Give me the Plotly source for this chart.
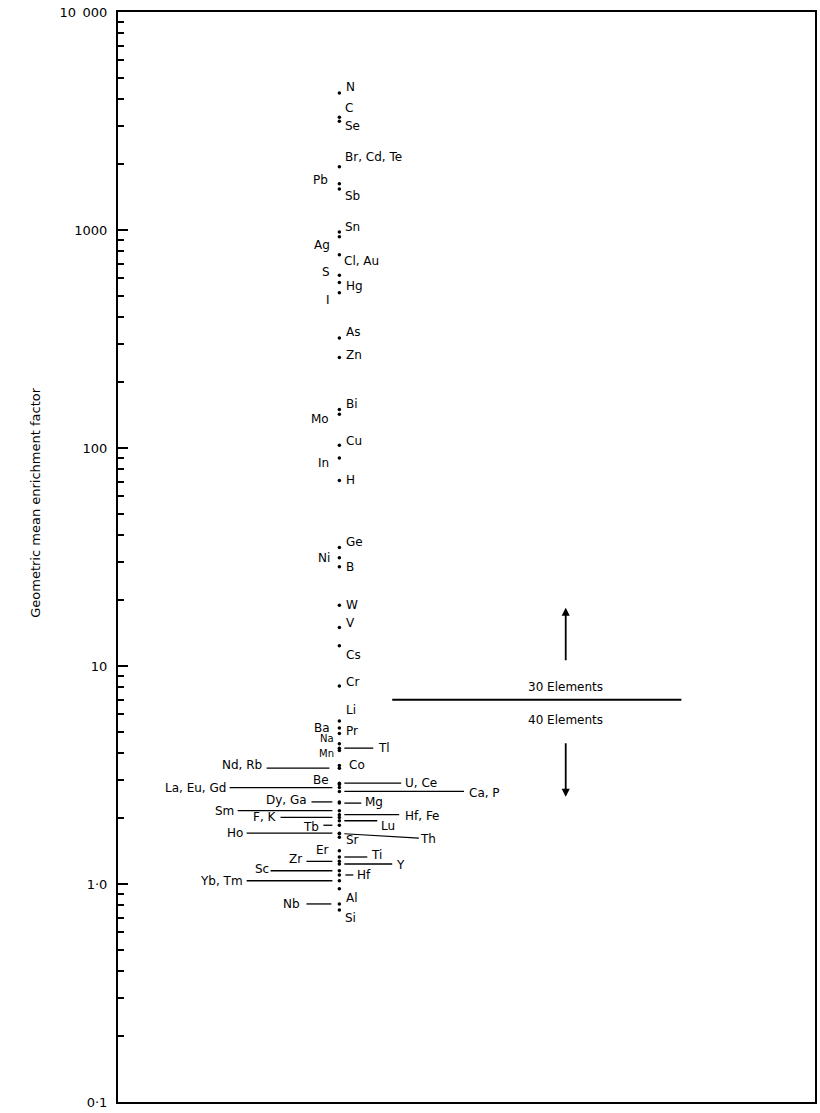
import math
import plotly.graph_objects as go

# ---------------- data ----------------
groups = ["N", "C", "Se", "Br, Cd, Te", "Pb", "Sb", "Sn", "Ag", "Cl, Au", "S", "Hg", "I",
          "As", "Zn", "Bi", "Mo", "Cu", "In", "H", "Ge", "Ni", "B", "W", "V", "Cs", "Cr",
          "Li", "Ba", "Pr", "Na", "Tl", "Mn", "Co", "Nd, Rb", "U, Ce", "Be", "La, Eu, Gd",
          "Ca, P", "Dy, Ga", "Mg", "Sm", "Hf, Fe", "F, K", "Lu", "Tb", "Ho", "Th", "Sr",
          "Er", "Ti", "Zr", "Y", "Sc", "Hf", "Yb, Tm", "Al", "Nb", "Si"]
ef_values = [4250, 3290, 3150, 1950, 1630, 1540, 980, 930, 770, 620, 575, 515,
             320, 260, 150, 143, 103, 90, 71, 35, 31.4, 28.5, 19.0, 15.0, 12.4, 8.1,
             5.6, 5.2, 4.9, 4.4, 4.2, 4.1, 3.5, 3.4, 2.9, 2.86, 2.77,
             2.66, 2.38, 2.35, 2.17, 2.08, 2.02, 1.95, 1.86, 1.71, 1.70, 1.64,
             1.42, 1.33, 1.27, 1.235, 1.15, 1.10, 1.035, 0.95, 0.81, 0.76]
divider_value = 7.0
divider_labels = ["30 Elements", "40 Elements"]
tick_values = [0.1, 1, 10, 100, 1000, 10000]
tick_labels = ["0·1", "1·0", "10", "100", "1000", "10\u2002000"]
y_title = "Geometric mean enrichment factor"

val = dict(zip(groups, ef_values))
lg = {g: math.log10(v) for g, v in val.items()}   # annotations on a log axis use log units
div_lg = math.log10(divider_value)

# ---------------- styling / placement ----------------
W, H = 820, 1113
L_M, R_M, T_M, B_M = 118, 3, 12, 11
COL_X = 340
FONT = "DejaVu Sans"
LBL_SIZE = 12

# label placement: group -> (x pixel, anchor, yshift[, size])
label_pos = {
    "N": (345, "left", 6), "C": (344, "left", 9), "Se": (344, "left", -5),
    "Br, Cd, Te": (344, "left", 10), "Pb": (331, "right", 4), "Sb": (344, "left", -7),
    "Sn": (344, "left", 5), "Ag": (333, "right", -8), "Cl, Au": (343, "left", -6),
    "S": (333, "right", 3), "Hg": (345, "left", -4), "I": (333, "right", -7),
    "As": (345, "left", 6), "Zn": (345, "left", 3), "Bi": (345, "left", 6),
    "Mo": (332, "right", -5), "Cu": (345, "left", 4), "In": (332, "right", -5),
    "H": (345, "left", 0), "Ge": (345, "left", 5), "Ni": (333, "right", 0),
    "B": (345, "left", 0), "W": (345, "left", 0), "V": (345, "left", 5),
    "Cs": (345, "left", -9), "Cr": (345, "left", 4), "Li": (345, "left", 11),
    "Ba": (333, "right", 0), "Pr": (345, "left", 3), "Na": (337, "right", 5, 10),
    "Mn": (337, "right", -3, 10), "Tl": (377, "left", 0), "Co": (348, "left", 0),
    "Nd, Rb": (264, "right", 3), "Be": (322, "center", 5), "La, Eu, Gd": (228, "right", 0),
    "U, Ce": (404, "left", 0), "Ca, P": (468, "left", -2), "Dy, Ga": (310, "right", 2),
    "Mg": (364, "left", 1), "Sm": (236, "right", 0), "Hf, Fe": (404, "left", -1),
    "F, K": (279, "right", 0), "Lu": (380, "left", -5), "Tb": (322, "right", -2),
    "Ho": (245, "right", 0), "Sr": (345, "left", -3), "Er": (332, "right", 1),
    "Ti": (370, "left", 2), "Zr": (305, "right", 2), "Y": (395, "left", -1),
    "Sc": (271, "right", 2), "Hf": (356, "left", 0), "Yb, Tm": (245, "right", 0),
    "Al": (345, "left", -9), "Nb": (303, "right", 0), "Si": (344, "left", -8),
}
# leader lines: group -> (x0, x1) pixels, drawn at the group's value
leaders = {
    "Tl": (345, 374), "Nd, Rb": (267, 330), "La, Eu, Gd": (230, 333),
    "U, Ce": (345, 402), "Ca, P": (345, 465), "Dy, Ga": (312, 333), "Mg": (345, 362),
    "Sm": (238, 333), "Hf, Fe": (345, 400), "F, K": (281, 333), "Lu": (345, 378),
    "Tb": (324, 333), "Ho": (247, 333), "Ti": (345, 368), "Zr": (307, 333),
    "Y": (345, 393), "Sc": (271, 333), "Hf": (346, 354), "Yb, Tm": (247, 333),
    "Nb": (307, 332),
}

fig = go.Figure()
fig.add_trace(go.Scatter(
    x=[COL_X] * len(ef_values), y=ef_values, mode="markers",
    marker=dict(color="black", size=3.5), hoverinfo="text", text=groups,
    showlegend=False, cliponaxis=False))

shapes = []
for g, (x0, x1) in leaders.items():
    shapes.append(dict(type="line", xref="x", yref="y", x0=x0, x1=x1,
                       y0=val[g], y1=val[g], line=dict(color="black", width=1.3)))
shapes.append(dict(type="line", xref="x", yref="y", x0=393, x1=683,
                   y0=divider_value, y1=divider_value, line=dict(color="black", width=2)))

annotations = []
for g, spec in label_pos.items():
    x, anc, ys = spec[:3]
    size = spec[3] if len(spec) > 3 else LBL_SIZE
    annotations.append(dict(x=x, y=lg[g], xref="x", yref="y", text=g, showarrow=False,
                            xanchor=anc, yanchor="middle", yshift=ys,
                            font=dict(family=FONT, size=size, color="black")))
annotations.append(dict(x=345, y=lg["Th"], xref="x", yref="y", text="Th", showarrow=True,
                        arrowhead=0, arrowwidth=1.2, arrowcolor="black", ax=84, ay=5,
                        standoff=0, font=dict(family=FONT, size=LBL_SIZE, color="black")))
annotations.append(dict(x=567, y=div_lg, xref="x", yref="y", text=divider_labels[0],
                        showarrow=False, yshift=13,
                        font=dict(family=FONT, size=12, color="black")))
annotations.append(dict(x=567, y=div_lg, xref="x", yref="y", text=divider_labels[1],
                        showarrow=False, yshift=-20,
                        font=dict(family=FONT, size=12, color="black")))
annotations.append(dict(x=567, y=div_lg, xref="x", yref="y", text="", showarrow=True,
                        arrowhead=2, arrowsize=0.9, arrowwidth=1.8, arrowcolor="black",
                        ax=0, ay=54, yshift=92, standoff=0))
annotations.append(dict(x=567, y=div_lg, xref="x", yref="y", text="", showarrow=True,
                        arrowhead=2, arrowsize=0.9, arrowwidth=1.8, arrowcolor="black",
                        ax=0, ay=-55, yshift=-97, standoff=0))
plot_w = W - L_M - R_M
plot_h = H - T_M - B_M
annotations.append(dict(x=(25 - L_M) / plot_w, y=(H - B_M - 503) / plot_h, xref="paper",
                        yref="paper", text=y_title, textangle=-90, showarrow=False,
                        font=dict(family=FONT, size=13, color="black")))

minor_vals = [m * 10 ** e for e in range(-1, 4) for m in range(2, 10)]

fig.update_layout(
    width=W, height=H, margin=dict(l=L_M, r=R_M, t=T_M, b=B_M),
    paper_bgcolor="white", plot_bgcolor="white",
    shapes=shapes, annotations=annotations, showlegend=False,
    xaxis=dict(range=[L_M, W - R_M], showgrid=False, zeroline=False, showticklabels=False,
               ticks="", showline=True, linecolor="black", linewidth=2, mirror=True,
               fixedrange=True),
    yaxis=dict(type="log", range=[-1, 4], tickvals=tick_values, ticktext=tick_labels,
               ticks="inside", ticklen=10, tickwidth=2, tickcolor="black",
               ticklabelstandoff=6,
               showline=True, linecolor="black", linewidth=2, mirror=True,
               showgrid=False, zeroline=False,
               tickfont=dict(family=FONT, size=13, color="black"),
               minor=dict(tickvals=minor_vals, ticks="inside", ticklen=6, tickwidth=1.5,
                          tickcolor="black", showgrid=False),
               fixedrange=True),
)

fig.write_html("out.html", config={"displayModeBar": False},
               post_script="document.body.style.margin='0';")
